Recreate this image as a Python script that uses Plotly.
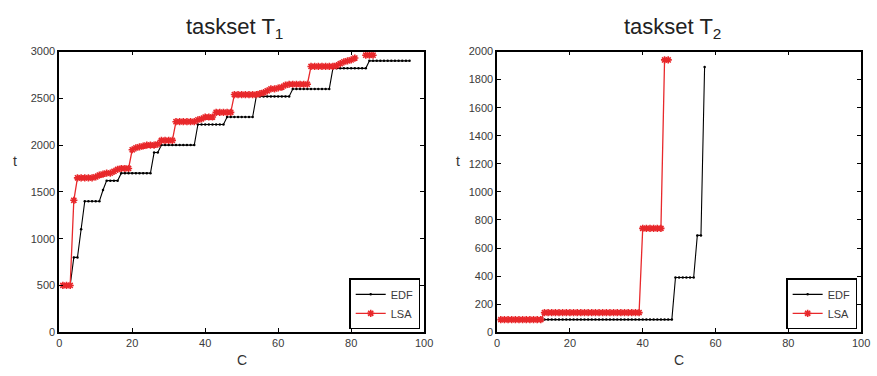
import plotly.graph_objects as go

# ---------------- data ----------------
t1_edf_c = list(range(1, 97))
t1_edf_t = ([500] * 3 + [800] * 2 + [1100] + [1400] * 5 + [1520] + [1620] * 4 +
            [1700] * 9 + [1920] * 2 + [2000] * 10 + [2220] * 8 + [2300] * 8 +
            [2520] * 10 + [2600] * 11 + [2820] * 10 + [2900] * 12)

t1_lsa_c = list(range(1, 82)) + [82, 84, 85, 86]
t1_lsa_t = ([500] * 3 + [1410] + [1650] * 5 + [1660, 1680, 1690, 1700, 1700, 1720, 1740] +
            [1750] * 3 + [1950, 1970, 1980, 1990, 2000, 2000, 2000, 2010] + [2050] * 4 +
            [2250] * 6 + [2270, 2280, 2300, 2300, 2300] + [2350] * 5 +
            [2540] * 7 + [2550, 2560, 2580, 2600, 2600, 2610, 2620, 2640] + [2650] * 6 +
            [2840] * 7 + [2850, 2870, 2890, 2900, 2910, 2930] + [None] + [2960] * 3)

t2_edf_c = list(range(1, 58))
t2_edf_t = [90] * 48 + [390] * 6 + [690] * 2 + [1890]

t2_lsa_c = list(range(1, 48))
t2_lsa_t = [90] * 12 + [140] * 27 + [740] * 6 + [1940] * 2

titles = ["taskset T<sub>1</sub>", "taskset T<sub>2</sub>"]

RED = "#e8282b"
W, H = 877, 376

fig = go.Figure()

def add(c, t, name, xa, ya, leg, red):
    if red:
        fig.add_trace(go.Scatter(
            x=c, y=t, name=name, xaxis=xa, yaxis=ya, legend=leg, mode="lines+markers",
            line=dict(color=RED, width=1.3),
            marker=dict(symbol="asterisk-open", size=6, color=RED, line=dict(color=RED, width=1.6)),
            connectgaps=False))
    else:
        fig.add_trace(go.Scatter(
            x=c, y=t, name=name, xaxis=xa, yaxis=ya, legend=leg, mode="lines+markers",
            line=dict(color="black", width=1.1),
            marker=dict(symbol="circle", size=2.5, color="black")))

add(t1_edf_c, t1_edf_t, "EDF", "x", "y", "legend", False)
add(t1_lsa_c, t1_lsa_t, "LSA", "x", "y", "legend", True)
add(t2_edf_c, t2_edf_t, "EDF", "x2", "y2", "legend2", False)
add(t2_lsa_c, t2_lsa_t, "LSA", "x2", "y2", "legend2", True)

px = lambda v: v / W
py = lambda v: 1 - v / H

dom1 = [px(57), px(427)]
dom2 = [px(501), px(870)]
ydom = [py(337), py(47)]

ax_common = dict(showline=True, linecolor="black", linewidth=1.6, mirror="ticks",
                 ticks="inside", ticklen=4, tickcolor="black", tickwidth=1,
                 showgrid=False, zeroline=False,
                 tickfont=dict(family="Liberation Sans, Arial", size=11, color="#3a3a3a"))

leg_common = dict(yanchor="bottom", bordercolor="black", borderwidth=1.5, bgcolor="white",
                  font=dict(family="Liberation Sans, Arial", size=11, color="#3a3a3a"),
                  itemwidth=30, tracegroupgap=0)

fig.update_layout(
    width=W, height=H, margin=dict(l=0, r=0, t=0, b=0),
    plot_bgcolor="white", paper_bgcolor="white",
    xaxis=dict(domain=dom1, range=[0, 100], dtick=20, anchor="y", **ax_common),
    yaxis=dict(domain=ydom, range=[0, 3000], dtick=500, anchor="x", **ax_common),
    xaxis2=dict(domain=dom2, range=[0, 100], dtick=20, anchor="y2", **ax_common),
    yaxis2=dict(domain=ydom, range=[0, 2000], dtick=200, anchor="x2", **ax_common),
    legend=dict(x=px(423), y=py(334), xanchor="right", **leg_common),
    legend2=dict(x=px(866), y=py(334), xanchor="right", **leg_common),
    showlegend=True,
)

font_t = dict(family="Liberation Sans Narrow, Arial Narrow, Liberation Sans", size=22, color="#222")
font_l = dict(family="Liberation Sans, Arial", size=14, color="#333")
for dom, ttl in zip([dom1, dom2], titles):
    cx = (dom[0] + dom[1]) / 2
    fig.add_annotation(x=cx - px(7), y=py(6), xref="paper", yref="paper", text=ttl,
                       showarrow=False, xanchor="center", yanchor="top", font=font_t)
    fig.add_annotation(x=cx, y=py(366), xref="paper", yref="paper", text="C",
                       showarrow=False, xanchor="center", yanchor="middle", font=font_l)
fig.add_annotation(x=px(12), y=py(160), xref="paper", yref="paper", text="t",
                   showarrow=False, xanchor="center", yanchor="middle", font=font_l)
fig.add_annotation(x=px(461), y=py(160), xref="paper", yref="paper", text="t",
                   showarrow=False, xanchor="center", yanchor="middle", font=font_l)

fig.write_html("out.html")
